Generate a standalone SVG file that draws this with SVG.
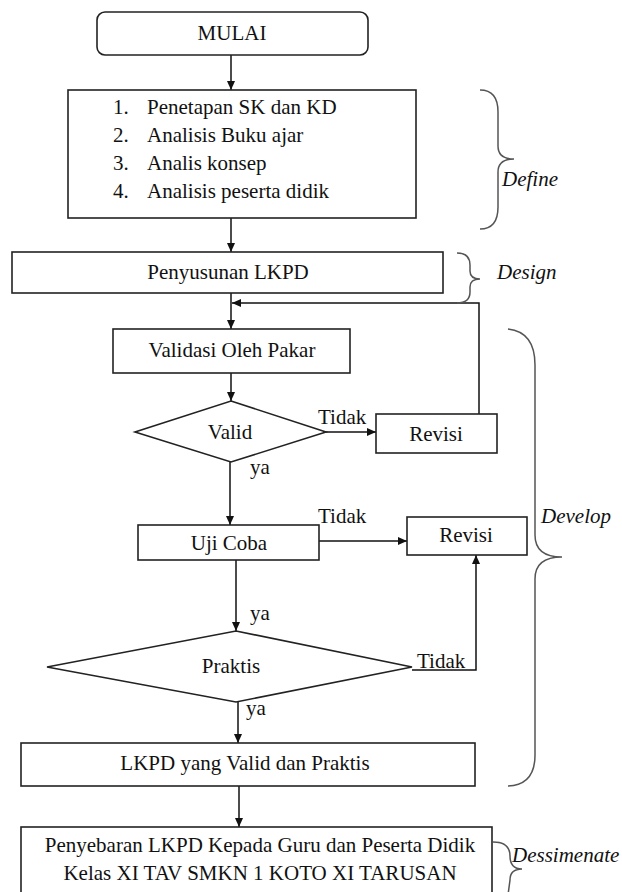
<svg xmlns="http://www.w3.org/2000/svg" width="622" height="892" viewBox="0 0 622 892">
<style>
.box{fill:#fff;stroke:#222;stroke-width:1.6}
.ln{fill:none;stroke:#111;stroke-width:1.5}
.br{fill:none;stroke:#555;stroke-width:1.5}
.t{font-family:"Liberation Serif","Times New Roman",serif;font-size:21px;fill:#111}
.c{text-anchor:middle}
.i{font-style:italic}
</style>
<defs>
<marker id="ah" viewBox="0 0 9 8" refX="9" refY="4" markerWidth="9" markerHeight="8" markerUnits="userSpaceOnUse" orient="auto">
<path d="M0,0 L9,4 L0,8 z" fill="#111"/>
</marker>
</defs>
<rect width="622" height="892" fill="#fff"/>
<g id="connectors">
<line class="ln" x1="231" y1="55" x2="231" y2="90" marker-end="url(#ah)"/>
<line class="ln" x1="231" y1="218" x2="231" y2="252" marker-end="url(#ah)"/>
<line class="ln" x1="231" y1="293" x2="231" y2="329" marker-end="url(#ah)"/>
<path class="ln" d="M479,414 L479,303 L232,303" marker-end="url(#ah)"/>
<line class="ln" x1="231" y1="373" x2="231" y2="401" marker-end="url(#ah)"/>
<line class="ln" x1="326" y1="432" x2="376" y2="432" marker-end="url(#ah)"/>
<line class="ln" x1="230" y1="462" x2="230" y2="525" marker-end="url(#ah)"/>
<line class="ln" x1="319" y1="541" x2="407" y2="541" marker-end="url(#ah)"/>
<line class="ln" x1="236" y1="560" x2="236" y2="631" marker-end="url(#ah)"/>
<path class="ln" d="M412,670 L476,670 L476,555" marker-end="url(#ah)"/>
<line class="ln" x1="238" y1="702" x2="238" y2="743" marker-end="url(#ah)"/>
<line class="ln" x1="239" y1="786" x2="239" y2="827" marker-end="url(#ah)"/>
<text class="t" x="318" y="424">Tidak</text>
<text class="t" x="250" y="474">ya</text>
<text class="t" x="318" y="523">Tidak</text>
<text class="t" x="250" y="620">ya</text>
<text class="t" x="417" y="668">Tidak</text>
<text class="t" x="246" y="715">ya</text>
</g>
<g id="mulai">
<rect class="box" x="97" y="12" width="271" height="43" rx="8"/>
<text class="t c" x="232" y="40">MULAI</text>
</g>
<g id="define-steps">
<rect class="box" x="68" y="90" width="348" height="128"/>
<text class="t" x="113" y="114">1.</text><text class="t" x="147" y="114">Penetapan SK dan KD</text>
<text class="t" x="113" y="142">2.</text><text class="t" x="147" y="142">Analisis Buku ajar</text>
<text class="t" x="113" y="170">3.</text><text class="t" x="147" y="170">Analis konsep</text>
<text class="t" x="113" y="198">4.</text><text class="t" x="147" y="198">Analisis peserta didik</text>
</g>
<g id="define-label">
<path class="br" d="M480,90 Q498,90 498,112 L498,146 Q498,159 514,159 Q498,159 498,172 L498,207 Q498,229 480,229"/>
<text class="t i" x="502" y="186">Define</text>
</g>
<g id="penyusunan">
<rect class="box" x="12" y="252" width="431" height="41"/>
<text class="t c" x="228" y="279">Penyusunan LKPD</text>
</g>
<g id="design-label">
<path class="br" d="M457,253 Q470,253 470,265 L470,271 Q470,279 480,279 Q470,279 470,287 L470,292 Q470,303 457,303"/>
<text class="t i" x="497" y="279">Design</text>
</g>
<g id="validasi">
<rect class="box" x="113" y="329" width="237" height="44"/>
<text class="t c" x="232" y="357">Validasi Oleh Pakar</text>
</g>
<g id="valid">
<polygon class="box" points="231,401 326,432 231,462 135,432"/>
<text class="t c" x="230" y="439">Valid</text>
</g>
<g id="revisi1">
<rect class="box" x="376" y="414" width="121" height="39"/>
<text class="t c" x="436" y="441">Revisi</text>
</g>
<g id="ujicoba">
<rect class="box" x="138" y="525" width="181" height="35"/>
<text class="t c" x="229" y="550">Uji Coba</text>
</g>
<g id="revisi2">
<rect class="box" x="407" y="517" width="120" height="38"/>
<text class="t c" x="466" y="542">Revisi</text>
</g>
<g id="praktis">
<polygon class="box" points="236,631 412,667 236,702 47,667"/>
<text class="t c" x="231" y="673">Praktis</text>
</g>
<g id="develop-label">
<path class="br" d="M508,329 Q535,332 535,365 L535,535 Q535,557 562,557 Q535,557 535,579 L535,755 Q535,785 508,786"/>
<text class="t i" x="541" y="523">Develop</text>
</g>
<g id="lkpd-valid">
<rect class="box" x="21" y="743" width="454" height="43"/>
<text class="t c" x="245" y="770">LKPD yang Valid dan Praktis</text>
</g>
<g id="penyebaran">
<rect class="box" x="21" y="827" width="471" height="80"/>
<text class="t c" x="260" y="852">Penyebaran LKPD Kepada Guru dan Peserta Didik</text>
<text class="t c" x="260" y="880">Kelas XI TAV SMKN 1 KOTO XI TARUSAN</text>
</g>
<g id="dessimenate-label">
<path class="br" d="M493,842 Q510,842 510,856 Q510,869 522,869 Q510,869 510,880 L508,895"/>
<text class="t i" x="512" y="862">Dessimenate</text>
</g>
</svg>
